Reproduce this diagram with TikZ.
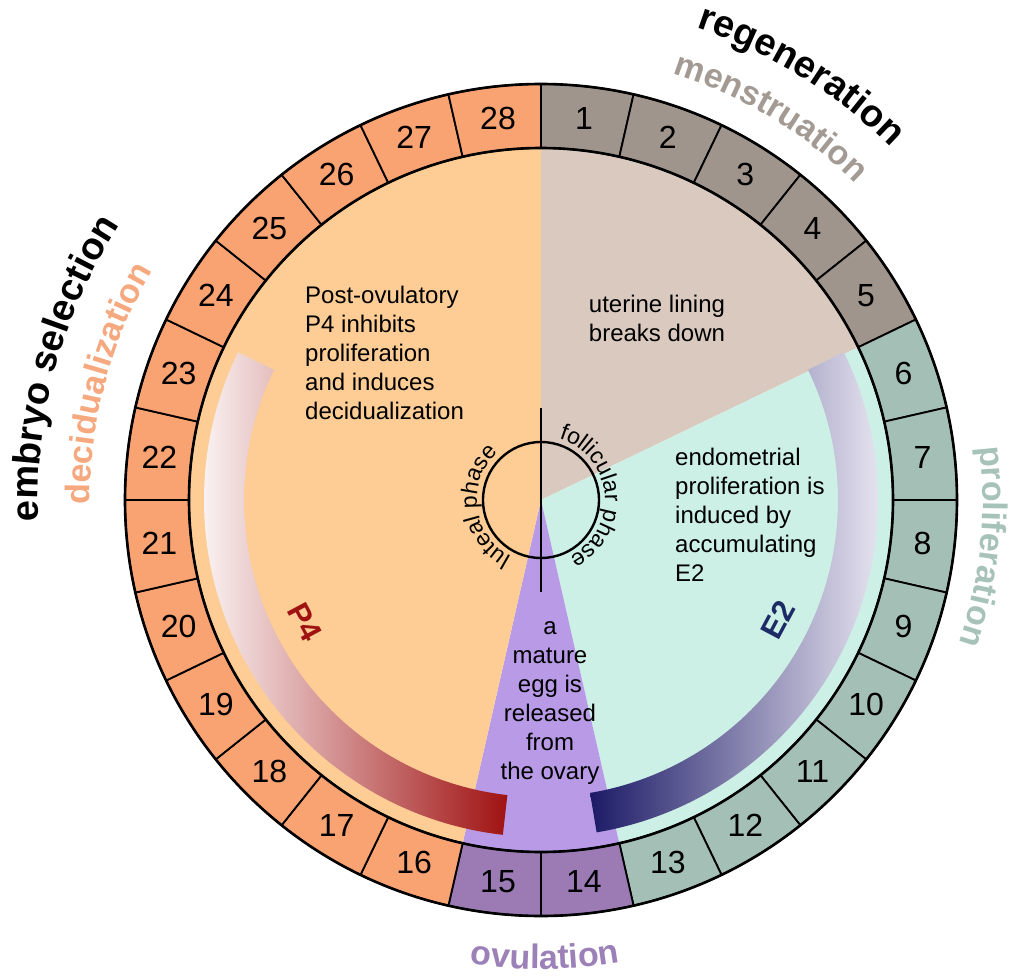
\documentclass[tikz,border=0pt]{standalone}
\usepackage{fontspec}
\setmainfont{Liberation Sans}
\usepackage{xcolor}
\usepackage{tikz}
\usetikzlibrary{positioning, decorations.text}

\definecolor{ringbrown}{HTML}{A0958C}
\definecolor{ringgreen}{HTML}{A4BFB5}
\definecolor{ringpurple}{HTML}{9C7BB5}
\definecolor{ringorange}{HTML}{F9A272}
\definecolor{piebrown}{HTML}{D9C9BF}
\definecolor{pieteal}{HTML}{CDF0E6}
\definecolor{piepurple}{HTML}{B89AE6}
\definecolor{pieorange}{HTML}{FDCD95}
\definecolor{mensgray}{HTML}{A39A93}
\definecolor{prolgreen}{HTML}{A7C2B8}
\definecolor{decorange}{HTML}{F6A87E}
\definecolor{ovupurple}{HTML}{9C80B8}
\definecolor{p4red}{HTML}{A01212}
\definecolor{p4pale}{HTML}{F4EEF3}
\definecolor{e2navy}{HTML}{1C1A66}
\definecolor{e2light}{HTML}{F2EFF8}
\definecolor{e2text}{HTML}{1C2A66}

\newcommand{\daysize}{\fontsize{32}{36}\selectfont}
\newcommand{\bodysize}{\fontsize{24}{29}\selectfont}
\newcommand{\phasesize}{\fontsize{23}{26}\selectfont}
\newcommand{\labelsize}{\fontsize{34}{38}\selectfont\bfseries}
\newcommand{\biglabelsize}{\fontsize{38}{42}\selectfont\bfseries}

\begin{document}
\begin{tikzpicture}[x=1pt, y=1pt,
    daycell/.style={draw=black, line width=1.8pt},
    ringline/.style={draw=black, line width=2.6pt},
    phaseline/.style={draw=black, line width=2.4pt},
    daynum/.style={font=\daysize, inner sep=0pt},
    bodytext/.style={font=\bodysize, inner sep=0pt},
    hormone/.style={font=\fontsize{31}{34}\selectfont\bfseries, inner sep=0pt}]

    \useasboundingbox (-541,-478) rectangle (478,500);
    \coordinate (ctr) at (0,0);

    \fill[piebrown] (ctr) -- (90:352) arc[start angle=90, end angle=25.714, radius=352] -- cycle;
    \fill[pieteal] (ctr) -- (25.714:352) arc[start angle=25.714, end angle=-77.143, radius=352] -- cycle;
    \fill[piepurple] (ctr) -- (-77.143:352) arc[start angle=-77.143, end angle=-102.857, radius=352] -- cycle;
    \fill[pieorange] (ctr) -- (-102.857:352) arc[start angle=-102.857, end angle=-270, radius=352] -- cycle;

    \shade[left color=white, middle color=p4pale, right color=p4red]
        (154:337) arc[start angle=154, end angle=263.5, radius=337]
        -- (263.5:297) arc[start angle=263.5, end angle=154, radius=297] -- cycle;
    \shade[left color=e2navy, right color=e2light]
        (26:337) arc[start angle=26, end angle=-80.5, radius=337]
        -- (-80.5:297) arc[start angle=-80.5, end angle=26, radius=297] -- cycle;

    \foreach \k in {1,...,28}{
        \pgfmathsetmacro{\a}{90-(\k-1)*360/28}
        \pgfmathsetmacro{\b}{90-\k*360/28}
        \pgfmathsetmacro{\m}{90-(\k-0.5)*360/28}
        \ifnum\k<6 \def\cellcol{ringbrown}\else\ifnum\k<14 \def\cellcol{ringgreen}\else\ifnum\k<16 \def\cellcol{ringpurple}\else\def\cellcol{ringorange}\fi\fi\fi
        \filldraw[daycell, fill=\cellcol] (\a:352) arc[start angle=\a, end angle=\b, radius=352]
            -- (\b:416) arc[start angle=\b, end angle=\a, radius=416] -- cycle;
        \node[daynum] (d\k) at (\m:384) {\k};
    }
    \draw[ringline] (ctr) circle[radius=416];
    \draw[ringline] (ctr) circle[radius=352];

    \draw[phaseline] (ctr) circle[radius=58];
    \draw[phaseline] (0,92) -- (0,-92);
    \path[decorate, decoration={text along path, text align=center, text={|\phasesize|luteal phase}}]
        (277:64) arc[start angle=277, end angle=97, radius=64];
    \path[decorate, decoration={text along path, text align=center, text={|\phasesize|follicular phase}}]
        (95:64) arc[start angle=95, end angle=-85, radius=64];

    \node[bodytext, anchor=west, align=left] (luteal) at (-236,147)
        {Post-ovulatory\\P4 inhibits\\proliferation\\and induces\\decidualization};
    \node[bodytext, align=center] (lining) at (116,182) {uterine lining\\breaks down};
    \node[bodytext, anchor=west, align=left] (endo) at (134,-15)
        {endometrial\\proliferation is\\induced by\\accumulating\\E2};
    \node[bodytext, align=center] (egg) at (9,-203)
        {a\\mature\\egg is\\released\\from\\the ovary};

    \node[hormone, text=p4red, rotate=-62] (p4) at (-236,-122) {P4};
    \node[hormone, text=e2text, rotate=62] (e2) at (237,-120) {E2};

    \path[decorate, decoration={text along path, text align=center, text={|\biglabelsize\color{black}|regeneration}}]
        (108.5:497) arc[start angle=108.5, end angle=8.5, radius=497];
    \path[decorate, decoration={text along path, text align=center, text={|\labelsize\color{mensgray}|menstruation}}]
        (109:446) arc[start angle=109, end angle=9, radius=446];
    \path[decorate, decoration={text along path, text align=center, text={|\labelsize\color{prolgreen}|proliferation}}]
        (44:442) arc[start angle=44, end angle=-56, radius=442];
    \path[decorate, decoration={text along path, text align=center, text={|\labelsize\color{ovupurple}|ovulation}}]
        (230.5:469) arc[start angle=230.5, end angle=310.5, radius=469];
    \path[decorate, decoration={text along path, text align=center, text={|\labelsize\color{decorange}|decidualization}}]
        (215:451) arc[start angle=215, end angle=115, radius=451];
    \path[decorate, decoration={text along path, text align=center, text={|\biglabelsize\color{black}|embryo selection}}]
        (214.6:503) arc[start angle=214.6, end angle=114.6, radius=503];

\end{tikzpicture}
\end{document}
